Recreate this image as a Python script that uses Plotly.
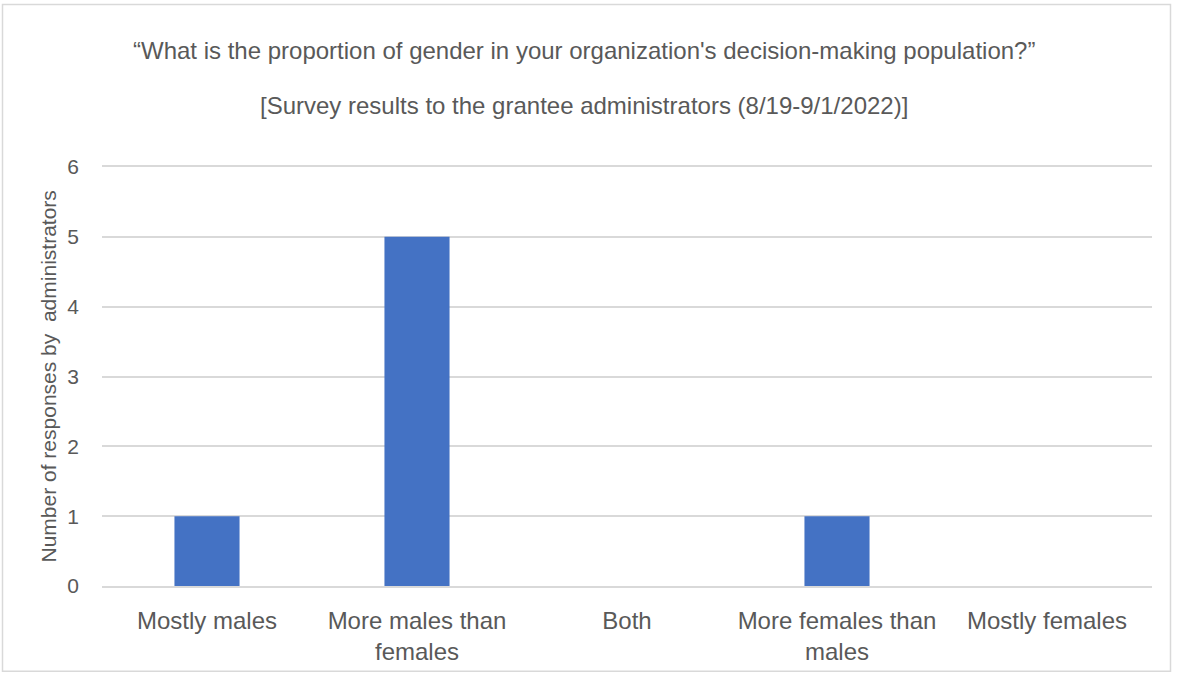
import plotly.graph_objects as go

# Survey answers and response counts
categories = ["Mostly males", "More males than<br>females", "Both",
              "More females than<br>males", "Mostly females"]
responses = [1, 5, 0, 1, 0]
y_ticks = [0, 1, 2, 3, 4, 5, 6]

title_line1 = "\u201cWhat is the proportion of gender in your organization's decision-making population?\u201d"
title_line2 = "[Survey results to the grantee administrators (8/19-9/1/2022)]"
y_title = "Number of responses by  administrators"

W, H = 1180, 677
L, R, T, B = 102, 28, 167, 87
PW, PH = W - L - R, H - T - B

TEXT = "#595959"
GRID = "#D9D9D9"
FONT = "Liberation Sans, Arial, sans-serif"


def px_x(px):
    return (px - L) / PW


def px_y(py):
    return (H - B - py) / PH


fig = go.Figure(
    go.Bar(
        x=categories,
        y=responses,
        marker=dict(color="#4472C4", line=dict(width=0)),
        hoverinfo="x+y",
    )
)

fig.update_layout(
    width=W,
    height=H,
    margin=dict(l=L, r=R, t=T, b=B, pad=0),
    paper_bgcolor="white",
    plot_bgcolor="white",
    bargap=0.69,
    showlegend=False,
    font=dict(family=FONT, color=TEXT, size=24),
    xaxis=dict(
        showgrid=False,
        showline=True,
        mirror=True,
        linecolor=GRID,
        linewidth=1.5,
        zeroline=False,
        ticks="",
        ticklabelstandoff=12,
        tickfont=dict(size=24, color=TEXT),
    ),
    yaxis=dict(
        range=[0, 6],
        tickvals=y_ticks,
        showgrid=True,
        gridcolor=GRID,
        gridwidth=1.5,
        zeroline=False,
        showline=False,
        ticks="",
        ticklabelstandoff=22,
        tickfont=dict(size=21, color=TEXT),
    ),
    annotations=[
        dict(text=title_line1, xref="paper", yref="paper",
             x=px_x(584), y=px_y(49), xanchor="center", yanchor="middle",
             showarrow=False, font=dict(size=24, color=TEXT)),
        dict(text=title_line2, xref="paper", yref="paper",
             x=px_x(584), y=px_y(105), xanchor="center", yanchor="middle",
             showarrow=False, font=dict(size=24, color=TEXT)),
        dict(text=y_title, xref="paper", yref="paper",
             x=px_x(48), y=0.5, xanchor="center", yanchor="middle",
             textangle=-90, showarrow=False, font=dict(size=21, color=TEXT)),
    ],
    shapes=[
        dict(type="rect", xref="paper", yref="paper",
             x0=px_x(2.5), x1=px_x(1170.5), y0=px_y(676), y1=px_y(3),
             line=dict(color=GRID, width=1.5), fillcolor="rgba(0,0,0,0)",
             layer="below"),
    ],
)

fig.write_html("out.html")
